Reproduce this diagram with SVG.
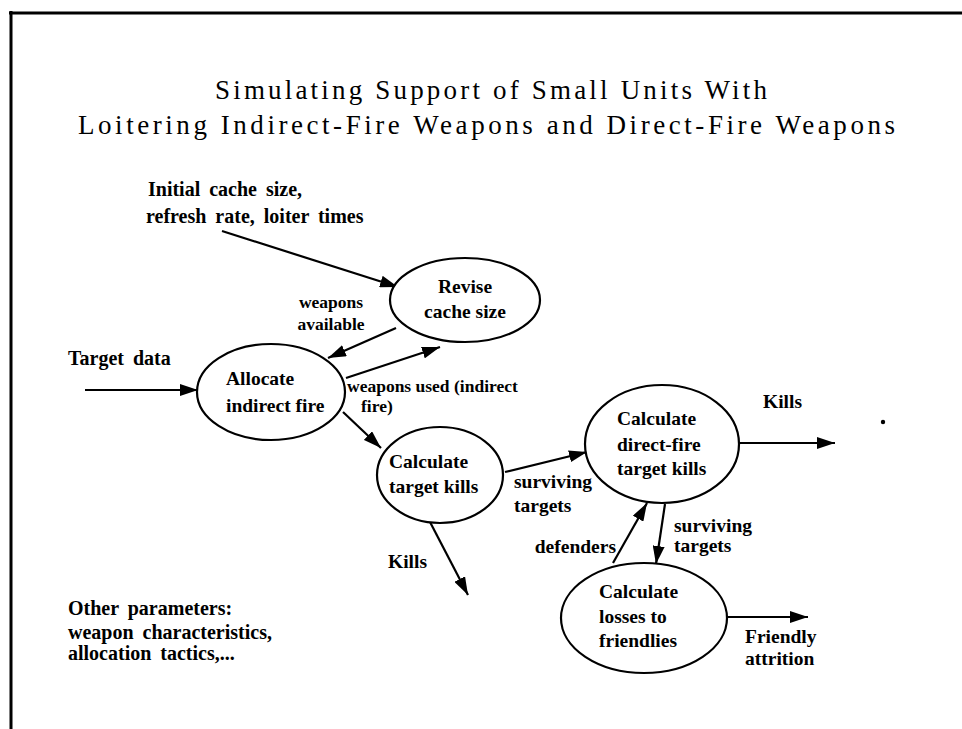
<svg xmlns="http://www.w3.org/2000/svg" width="962" height="729" viewBox="0 0 962 729">
<defs>
<marker id="ah" viewBox="0 0 18 12" refX="18" refY="6" markerWidth="18" markerHeight="12" markerUnits="userSpaceOnUse" orient="auto">
<path d="M0,0 L18,6 L0,12 Z" fill="#000"/>
</marker>
</defs>
<style>
.node ellipse{fill:#fff;stroke:#000;stroke-width:2.2}
text{font-family:"Liberation Serif","Times New Roman",serif;fill:#000}
.nt{font-weight:bold;font-size:19.5px}
.lb{font-weight:bold;font-size:20px;word-spacing:4px}
.sm{font-weight:bold;font-size:17.5px}
.ti{font-size:27px}
.conn line{stroke:#000;stroke-width:2.2;marker-end:url(#ah)}
</style>
<rect width="962" height="729" fill="#fff"/>
<g id="border" stroke="#000" stroke-width="3">
<line x1="9" y1="13" x2="962" y2="13"/>
<line x1="11" y1="11" x2="11" y2="729"/>
</g>
<g id="title">
<text class="ti" x="215" y="99" textLength="552" lengthAdjust="spacing">Simulating Support of Small Units With</text>
<text class="ti" x="78" y="134" textLength="817" lengthAdjust="spacing">Loitering Indirect-Fire Weapons and Direct-Fire Weapons</text>
</g>
<g id="conns" class="conn">
<line x1="222" y1="231" x2="398" y2="287"/>
<line x1="396" y1="328" x2="328" y2="358"/>
<line x1="346" y1="378" x2="440" y2="347"/>
<line x1="85" y1="390" x2="198" y2="390"/>
<line x1="343" y1="412" x2="381" y2="448"/>
<line x1="430" y1="522" x2="468" y2="595"/>
<line x1="505" y1="472" x2="587" y2="452"/>
<line x1="740" y1="443" x2="835" y2="443"/>
<line x1="613" y1="563" x2="647" y2="503"/>
<line x1="665" y1="504" x2="656" y2="564"/>
<line x1="727" y1="617" x2="808" y2="617"/>
</g>
<g id="revise" class="node">
<ellipse cx="465" cy="300" rx="75" ry="42"/>
<text class="nt" x="465" y="293" text-anchor="middle">Revise</text>
<text class="nt" x="465" y="318" text-anchor="middle">cache size</text>
</g>
<g id="allocate" class="node">
<ellipse cx="271" cy="392" rx="74" ry="48"/>
<text class="nt" x="226" y="385">Allocate</text>
<text class="nt" x="226" y="412">indirect fire</text>
</g>
<g id="targetkills" class="node">
<ellipse cx="440" cy="475" rx="63" ry="48"/>
<text class="nt" x="389" y="468">Calculate</text>
<text class="nt" x="389" y="493">target kills</text>
</g>
<g id="directfire" class="node">
<ellipse cx="662" cy="444" rx="77" ry="59"/>
<text class="nt" x="617" y="425">Calculate</text>
<text class="nt" x="617" y="451">direct-fire</text>
<text class="nt" x="617" y="475">target kills</text>
</g>
<g id="losses" class="node">
<ellipse cx="644" cy="618" rx="83" ry="55"/>
<text class="nt" x="599" y="598">Calculate</text>
<text class="nt" x="599" y="623">losses to</text>
<text class="nt" x="599" y="647">friendlies</text>
</g>
<g id="labels">
<text class="lb" x="148" y="196">Initial cache size,</text>
<text class="lb" x="146" y="223">refresh rate, loiter times</text>
<text class="lb" x="68" y="365">Target data</text>
<text class="sm" x="331" y="308" text-anchor="middle">weapons</text>
<text class="sm" x="331" y="330" text-anchor="middle">available</text>
<text class="sm" x="347" y="392">weapons used (indirect</text>
<text class="sm" x="361" y="412">fire)</text>
<text class="nt" x="514" y="488">surviving</text>
<text class="nt" x="514" y="512">targets</text>
<text class="nt" x="388" y="568">Kills</text>
<text class="nt" x="763" y="408">Kills</text>
<text class="nt" x="616" y="553" text-anchor="end">defenders</text>
<text class="nt" x="674" y="532">surviving</text>
<text class="nt" x="674" y="552">targets</text>
<text class="nt" x="745" y="643">Friendly</text>
<text class="nt" x="745" y="665">attrition</text>
<text class="lb" x="68" y="615">Other parameters:</text>
<text class="lb" x="68" y="639">weapon characteristics,</text>
<text class="lb" x="68" y="660">allocation tactics,...</text>
<circle cx="883" cy="422" r="2.2" fill="#000"/>
</g>
</svg>
